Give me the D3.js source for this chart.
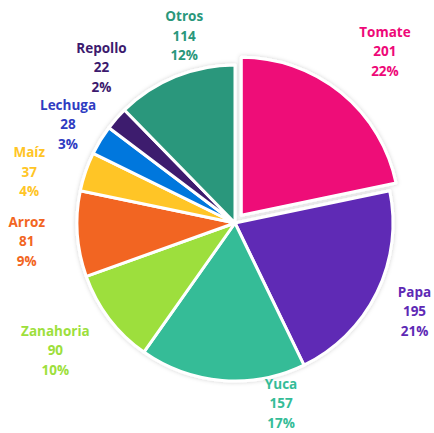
<!DOCTYPE html>
<html>
<meta charset="utf-8">
<title>Cultivos</title>
<style>
  body { margin: 0; background: #fff; }
  .lbl { font-family: "Open Sans", Lato, sans-serif; font-weight: 700; font-size: 13.5px; }
</style>
<body>
<div id="chart"></div>
<script src="https://d3js.org/d3.v7.min.js"></script>
<script>
// data
var names  = ["Tomate", "Papa", "Yuca", "Zanahoria", "Arroz", "Maíz", "Lechuga", "Repollo", "Otros"];
var values = [201, 195, 157, 90, 81, 37, 28, 22, 114];
var colors = ["#ee0878", "#5e29b5", "#35bc97", "#9ddf3c", "#f26522", "#ffc526", "#0677dd", "#3c1a6e", "#2a977b"];
var textColors = ["#ee0878", "#5e29b5", "#35bc97", "#9ddf3c", "#f26522", "#ffc526", "#2f3cc2", "#3c1a6e", "#2a977b"];

// label nudges (degrees, radius) - Excel "best fit" puts them off the midline
var labelAngle  = [2, 0, -19, 2, -1, -5, -1, 8, 7];
var labelRadius = [218, 200, 186, 220, 209, 212, 194, 205, 194];
var explode = [10, 0, 0, 0, 0, 0, 0, 0, 0];

var width = 434, height = 433;
var cx = 235, cy = 223, r = 158;

var total = d3.sum(values);
var fmtPct = function(v) { return Math.round(v / total * 100) + "%"; };

var svg = d3.select("#chart").append("svg")
    .attr("width", width)
    .attr("height", height);

var defs = svg.append("defs");
var filt = defs.append("filter").attr("id", "shadow")
    .attr("x", "-20%").attr("y", "-20%").attr("width", "140%").attr("height", "140%");
filt.append("feDropShadow")
    .attr("dx", 0).attr("dy", 0).attr("stdDeviation", 2)
    .attr("flood-color", "#000").attr("flood-opacity", 0.18);

var pie = d3.pie().sort(null).value(function(d) { return d; });
var arcs = pie(values);

var arc = d3.arc().innerRadius(0).outerRadius(r);

var g = svg.append("g")
    .attr("transform", "translate(" + cx + "," + cy + ")");

g.append("g")
    .attr("filter", "url(#shadow)")
  .selectAll("path")
    .data(arcs)
  .enter().append("path")
    .attr("d", arc)
    .attr("transform", function(d, i) {
      var a = (d.startAngle + d.endAngle) / 2;
      return "translate(" + (Math.sin(a) * explode[i]) + "," + (-Math.cos(a) * explode[i]) + ")";
    })
    .style("fill", function(d, i) { return colors[i]; })
    .style("stroke", "white")
    .style("stroke-width", 3)
    .style("stroke-linejoin", "round");

var labels = g.append("g").selectAll("text")
    .data(arcs)
  .enter().append("text")
    .attr("class", "lbl")
    .attr("text-anchor", "middle")
    .style("fill", function(d, i) { return textColors[i]; })
    .attr("transform", function(d, i) {
      var a = (d.startAngle + d.endAngle) / 2 + labelAngle[i] * Math.PI / 180;
      var lr = labelRadius[i] + explode[i];
      return "translate(" + (Math.sin(a) * lr) + "," + (-Math.cos(a) * lr) + ")";
    });

labels.each(function(d, i) {
  var t = d3.select(this);
  var lines = [names[i], values[i], fmtPct(values[i])];
  lines.forEach(function(s, k) {
    t.append("tspan")
      .attr("x", 0)
      .attr("y", (k - 1) * 19.5 + 5)
      .text(s);
  });
});
</script>
</body>
</html>
